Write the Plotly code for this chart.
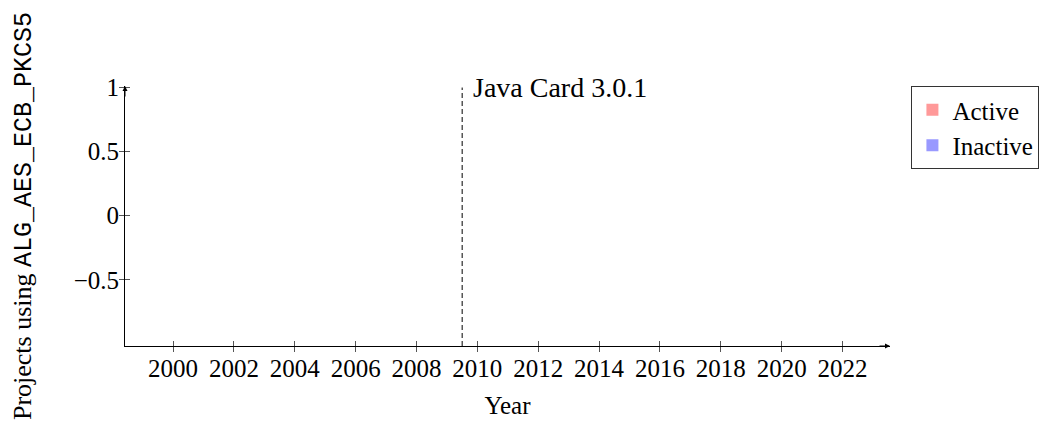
import plotly.graph_objects as go

# ---- data ----
years = [1999, 2000, 2001, 2002, 2003, 2004, 2005, 2006, 2007, 2008, 2009, 2010,
         2011, 2012, 2013, 2014, 2015, 2016, 2017, 2018, 2019, 2020, 2021, 2022, 2023]
active = [0, 0, 0, 0, 0, 0, 0, 0, 0, 0, 0, 0, 0, 0, 0, 0, 0, 0, 0, 0, 0, 0, 0, 0, 0]
inactive = [0, 0, 0, 0, 0, 0, 0, 0, 0, 0, 0, 0, 0, 0, 0, 0, 0, 0, 0, 0, 0, 0, 0, 0, 0]
x_ticks = [2000, 2002, 2004, 2006, 2008, 2010, 2012, 2014, 2016, 2018, 2020, 2022]
y_ticks = [-0.5, 0, 0.5, 1]
release_year = [2009.5]
release_label = ["Java Card 3.0.1"]

X_RANGE = [1998.42, 2023.56]
Y_RANGE = [-1.016, 1.012]

SERIF = "Liberation Serif"
FS = 25

fig = go.Figure()
fig.add_trace(go.Bar(x=years, y=active, name="Active",
                     marker=dict(color="#ff9999", line=dict(color="#333333", width=0)),
                     showlegend=True))
fig.add_trace(go.Bar(x=years, y=inactive, name="Inactive",
                     marker=dict(color="#9999ff", line=dict(color="#333333", width=0)),
                     showlegend=True))
# invisible trace on overlay axes (for inside ticks)
fig.add_trace(go.Scatter(x=[years[0]], y=[0], xaxis="x2", yaxis="y2",
                         mode="markers", marker=dict(opacity=0), showlegend=False,
                         hoverinfo="skip"))

for xr, lab in zip(release_year, release_label):
    fig.add_shape(type="line", xref="x", yref="y", x0=xr, x1=xr,
                  y0=Y_RANGE[0], y1=1, line=dict(color="black", width=1, dash="5px,3px"))
    fig.add_annotation(x=xr, y=1, xref="x", yref="y", text=lab, showarrow=False,
                       xanchor="left", yanchor="middle", xshift=9,
                       font=dict(family=SERIF, size=28, color="black"))

# axis arrows
fig.add_annotation(xref="paper", yref="paper", x=1, y=0, ax=-12, ay=0,
                   showarrow=True, arrowhead=2, arrowsize=1, arrowwidth=1,
                   arrowcolor="black", text="", standoff=0)
fig.add_annotation(xref="paper", yref="paper", x=0, y=1, ax=0, ay=12,
                   showarrow=True, arrowhead=2, arrowsize=1, arrowwidth=1,
                   arrowcolor="black", text="", standoff=0)

axis_common = dict(showgrid=False, zeroline=False, showline=False)

fig.update_layout(
    width=1051, height=427,
    margin=dict(l=125, r=159, t=86, b=81),
    paper_bgcolor="white", plot_bgcolor="white",
    font=dict(family=SERIF, size=FS, color="black"),
    barmode="group",
    xaxis=dict(range=X_RANGE, tickvals=x_ticks, ticks="outside", ticklen=5,
               tickcolor="#555555", tickwidth=1, showline=True, linecolor="black",
               linewidth=1, showgrid=False, zeroline=False, automargin=False,
               ticklabelstandoff=-5,
               tickfont=dict(family=SERIF, size=FS),
               title=dict(text="Year", font=dict(family=SERIF, size=FS), standoff=15)),
    yaxis=dict(range=Y_RANGE, tickvals=y_ticks, ticks="outside", ticklen=5,
               tickcolor="#555555", tickwidth=1, showline=True, linecolor="black",
               linewidth=1, showgrid=False, zeroline=False, automargin=False,
               ticklabelstandoff=-5,
               tickfont=dict(family=SERIF, size=FS),
               title=dict(text="Projects using <span style=\"font-family:'Liberation Mono'; font-size:25px\">ALG_AES_ECB_PKCS5</span>",
                          font=dict(family=SERIF, size=26), standoff=34)),
    xaxis2=dict(overlaying="x", matches="x", range=X_RANGE, tickvals=x_ticks,
                ticks="inside", ticklen=5, tickcolor="#555555", tickwidth=1,
                showticklabels=False, automargin=False, **axis_common),
    yaxis2=dict(overlaying="y", matches="y", range=Y_RANGE, tickvals=y_ticks,
                ticks="inside", ticklen=5, tickcolor="#555555", tickwidth=1,
                showticklabels=False, automargin=False, **axis_common),
    legend=dict(x=1.028, y=1.0, xanchor="left", yanchor="top",
                bordercolor="#333333", borderwidth=1, bgcolor="white",
                font=dict(family=SERIF, size=FS), tracegroupgap=0,
                itemwidth=30),
)

fig.write_html("out.html", config={"displayModeBar": False},
               post_script="document.body.style.margin='0';")
